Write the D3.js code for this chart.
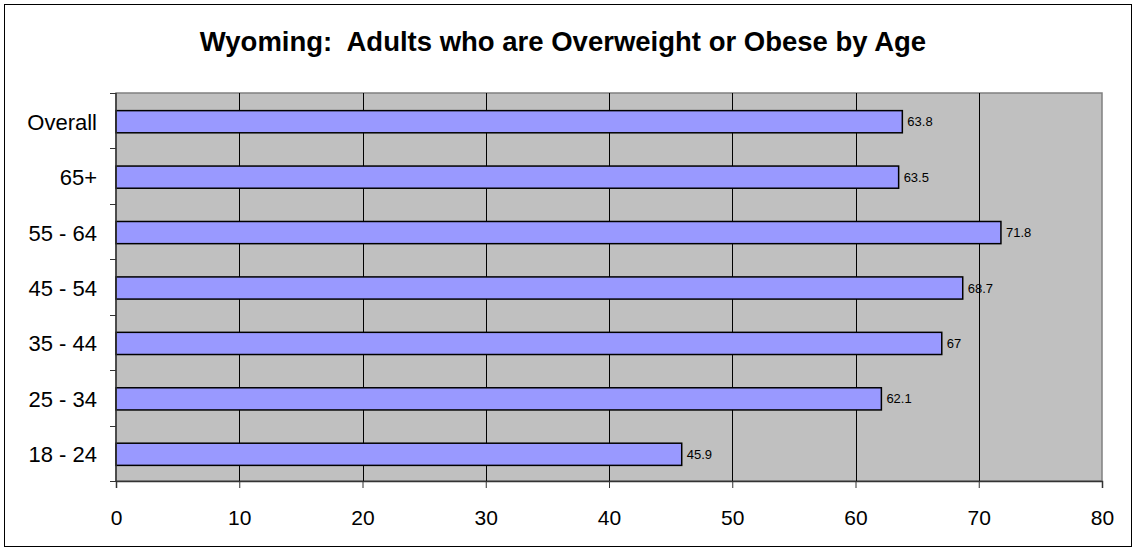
<!DOCTYPE html>
<html>
<head>
<meta charset="utf-8">
<script src="https://cdn.jsdelivr.net/npm/d3@7"></script>
<style>
  body { margin: 0; background: white; font-family: Arial, "Liberation Sans", sans-serif; }
</style>
</head>
<body>
<svg id="chart"></svg>
<script>
// chart data
let categories = ["Overall", "65+", "55 - 64", "45 - 54", "35 - 44", "25 - 34", "18 - 24"]
let values = [63.8, 63.5, 71.8, 68.7, 67, 62.1, 45.9]
let xTicks = [0, 10, 20, 30, 40, 50, 60, 70, 80]
let title = "Wyoming:  Adults who are Overweight or Obese by Age"

let width = 1133, height = 550
let plot = { left: 116, top: 93, right: 1102, bottom: 481 }
let fontFamily = "Arial, 'Liberation Sans', sans-serif"

let svg = d3.select("#chart").attr("width", width).attr("height", height)

// outer frame
svg.append("rect")
  .attr("x", 4.5).attr("y", 4.5)
  .attr("width", 1127).attr("height", 542)
  .attr("fill", "white").attr("stroke", "black").attr("stroke-width", 1)

svg.append("text")
  .attr("x", 563).attr("y", 51)
  .attr("text-anchor", "middle")
  .style("white-space", "pre")
  .style("font-size", "27.5px").style("font-weight", "bold")
  .text(title)

let xScale = d3.scaleLinear().domain([0, 80]).range([plot.left, plot.right])
let yScale = d3.scaleBand().domain(categories).range([plot.top, plot.bottom])
  .paddingInner(0.6).paddingOuter(0.3)

// plot background
svg.append("rect")
  .attr("x", plot.left).attr("y", plot.top)
  .attr("width", plot.right - plot.left).attr("height", plot.bottom - plot.top)
  .attr("fill", "#c0c0c0").attr("stroke", "#808080").attr("stroke-width", 1.5)

// vertical gridlines
svg.selectAll(".grid").data(xTicks.filter(d => d > 0 && d < 80)).enter()
  .append("line")
  .attr("x1", d => Math.round(xScale(d)) + 0.5).attr("x2", d => Math.round(xScale(d)) + 0.5)
  .attr("y1", plot.top).attr("y2", plot.bottom)
  .attr("stroke", "#000").attr("stroke-width", 1)

// bars
svg.selectAll(".bar").data(values).enter()
  .append("rect")
  .attr("x", xScale(0))
  .attr("y", (d, i) => yScale(categories[i]) + 1)
  .attr("width", d => xScale(d) - xScale(0))
  .attr("height", yScale.bandwidth())
  .attr("fill", "#9999ff").attr("stroke", "black").attr("stroke-width", 1.5)

// value labels
svg.selectAll(".val").data(values).enter()
  .append("text")
  .attr("x", d => xScale(d) + 5)
  .attr("y", (d, i) => yScale(categories[i]) + yScale.bandwidth() / 2 + 5.5)
  .style("font-size", "13px")
  .text(d => d)

// x axis
let axisX = d3.axisBottom(xScale).tickValues(xTicks).tickSize(7).tickPadding(22)
let gx = svg.append("g").attr("transform", `translate(0,${plot.bottom})`).call(axisX)
gx.select(".domain").attr("stroke", "#333").attr("stroke-width", 1.5)
gx.selectAll(".tick line").attr("stroke", "#333")
gx.selectAll("text").style("font-size", "21px").style("font-family", fontFamily).attr("fill", "black")

// y axis: ticks at band boundaries, labels centred on bars
let boundaries = d3.range(categories.length + 1).map(i => plot.top + i * (plot.bottom - plot.top) / categories.length)
svg.selectAll(".ytick").data(boundaries).enter()
  .append("line")
  .attr("x1", plot.left - 6).attr("x2", plot.left)
  .attr("y1", d => Math.round(d) + 0.5).attr("y2", d => Math.round(d) + 0.5)
  .attr("stroke", "#333")
svg.append("line")
  .attr("x1", plot.left).attr("x2", plot.left)
  .attr("y1", plot.top).attr("y2", plot.bottom)
  .attr("stroke", "#333").attr("stroke-width", 1.5)

svg.selectAll(".ylab").data(categories).enter()
  .append("text")
  .attr("x", 97)
  .attr("y", d => yScale(d) + yScale.bandwidth() / 2 + 9)
  .attr("text-anchor", "end")
  .style("font-size", "22px")
  .text(d => d)
</script>
</body>
</html>
